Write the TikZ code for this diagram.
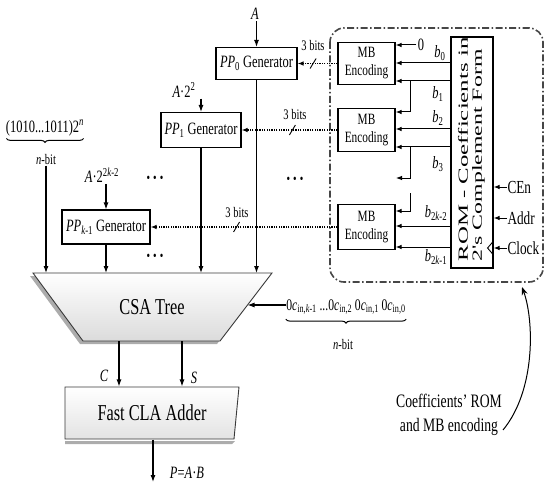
\documentclass[tikz,border=0pt]{standalone}
\usepackage{fontspec}
\setmainfont{Liberation Serif}[FakeStretch=0.72]
\newfontfamily\romfont{Liberation Serif}
\usetikzlibrary{arrows.meta,decorations.pathreplacing,calc}
\newcommand\fsz[1]{\fontsize{#1}{#1}\selectfont}
\newcommand\sbs[1]{\textsubscript{#1}}
\begin{document}
\begin{tikzpicture}[x=1pt,y=-1pt,line width=1.1pt,
  ppbox/.style={draw,line width=1.1pt,inner sep=0pt,font=\fsz{17.3}},
  mbbox/.style={draw,line width=1.1pt,inner sep=0pt,align=center,font=\fontsize{15.7}{18}\selectfont,minimum width=57pt},
  lbl/.style={inner sep=1pt,font=\fsz{17.3}},
  smalllbl/.style={inner sep=0pt,font=\fsz{14.6}},
  sig/.style={inner sep=0pt,font=\fsz{18.4}},
  arr/.style={-{Latex[length=7pt,width=5pt]},line width=1.1pt},
  sarr/.style={-{Latex[length=6pt,width=4.5pt]},line width=1pt},
  dotarr/.style={-{Latex[length=6pt,width=4.5pt]},dash pattern=on 1.2pt off 1.2pt,line width=1.2pt},
  slashmark/.style={line width=0.9pt},
  dashbox/.style={line width=1.6pt,draw=gray!55!black,dash pattern=on 7pt off 2.5pt on 1.5pt off 2.5pt,rounded corners=14pt},
  bracestyle/.style={decorate,decoration={brace,mirror,amplitude=4pt},line width=1pt},
  dotsstyle/.style={inner sep=0pt,font=\fsz{14}}
]
\useasboundingbox (0,0) rectangle (546,484);

% ---------- PP generators ----------
\node[ppbox,minimum width=81pt,minimum height=32pt] (pp0) at (256.5,63.5) {\textit{PP}\sbs{0} Generator};
\node[ppbox,minimum width=80pt,minimum height=35pt] (pp1) at (201,130) {\textit{PP}\sbs{1} Generator};
\node[ppbox,minimum width=88pt,minimum height=34pt] (ppk) at (106,227) {\textit{PP}\sbs{\textit{k}-1} Generator};

\node[lbl] (A) at (255,14) {\textit{A}};
\node[lbl] (A2) at (184,90) {\textit{A}·2\textsuperscript{2}};
\node[lbl] (A2k) at (102,175) {\textit{A}·2\textsuperscript{2\textit{k}-2}};
\draw[arr] (pp0.north |- A.south) -- (pp0.north);
\draw[arr] (pp1.north |- A2.south) -- (pp1.north);
\draw[arr] (ppk.north |- A2k.south) -- (ppk.north);

% binary constant
\node[lbl] (bin) at (45,128) {(1010...1011)2\textsuperscript{\textit{n}}};
\draw[bracestyle] ($(bin.south west)+(2,1)$) -- ($(bin.south east)+(-2,1)$);
\node[smalllbl] (nb1) at (46,160) {\textit{n}-bit};

% dots
\node[dotsstyle] (d1) at (155,179) {•\hspace{3pt}•\hspace{3pt}•};
\node[dotsstyle] (d2) at (295,180) {•\hspace{3pt}•\hspace{3pt}•};
\node[dotsstyle] (d3) at (155,257) {•\hspace{3pt}•\hspace{3pt}•};

% ---------- CSA tree ----------
\coordinate (csaT) at (152,273);
\coordinate (csaB) at (152,341);
\coordinate (csaR) at (247.5,305);
\fill[gray!65] (30,276) -- (269,276) -- (217,344) -- (80,344) -- cycle;
\shade[top color=white,bottom color=gray!28,draw=gray!45!black,line width=0.9pt] (33,273) -- (272,273) -- (220,341) -- (83,341) -- cycle;
\node[font=\fsz{22.7}] (csa) at (152,307) {CSA Tree};

\draw[arr] (nb1.south) -- (nb1.south |- csaT);
\draw[arr] (ppk.south) -- (ppk.south |- csaT);
\draw[arr] (pp1.south) -- (pp1.south |- csaT);
\draw[arr] (pp0.south) -- (pp0.south |- csaT);

\node[inner sep=0pt,font=\fsz{16.2}] (cin) at (346,307) {0\textit{c}\sbs{in,\textit{k}-1}\,...0\textit{c}\sbs{in,2}\,0\textit{c}\sbs{in,1}\,0\textit{c}\sbs{in,0}};
\draw[arr] (cin.west |- csaR) -- (csaR);
\draw[bracestyle] ($(cin.south west)+(0,4)$) -- ($(cin.south east)+(0,4)$);
\node[smalllbl] (nb2) at (343,345) {\textit{n}-bit};

% ---------- Fast CLA adder ----------
\fill[gray!65] (65,441) -- (235,441) -- (232,444) -- (65,444) -- cycle;
\shade[top color=white,bottom color=gray!22,draw=gray!45!black,line width=0.9pt] (65,387) -- (239,387) -- (234,439) -- (65,439) -- cycle;
\node[minimum width=174pt,minimum height=52pt,inner sep=0pt,font=\fsz{22.7}] (cla) at (152,413) {Fast CLA Adder};

\coordinate (cC) at (119,341);
\coordinate (cS) at (182,341);
\draw[arr] (cC) -- (cC |- cla.north);
\draw[arr] (cS) -- (cS |- cla.north);
\node[lbl] (Clbl) at (104,376) {\textit{C}};
\node[lbl] (Slbl) at (194,378) {\textit{S}};

\coordinate (pout) at (153,482);
\draw[arr] (pout |- cla.south) -- (pout);
\node[lbl] (Plbl) at (187,473) {\textit{P}=\textit{A}·\textit{B}};

% ---------- ROM and MB encoding ----------
\draw[dashbox] (330,28) rectangle (543,282);

\node[mbbox,minimum height=42pt] (mb1) at (366.5,63.5) {MB\\Encoding};
\node[mbbox,minimum height=43pt] (mb2) at (366.5,130) {MB\\Encoding};
\node[mbbox,minimum height=45pt] (mb3) at (366.5,227) {MB\\Encoding};

\node[draw,line width=1.1pt,minimum width=42pt,minimum height=231pt,inner sep=0pt] (rom) at (472,152.5) {};
\node[rotate=90,anchor=west,inner sep=0pt,font=\romfont\fsz{14}] (romt1) at (463,262) {\resizebox{224pt}{\height}{ROM - Coefficients in}};
\node[rotate=90,anchor=west,inner sep=0pt,font=\romfont\fsz{14}] (romt2) at (478.5,262) {\resizebox{212pt}{\height}{2's Complement Form}};

% control inputs
\node[sig,anchor=west] (cen) at (507,187) {CEn};
\node[sig,anchor=west] (addr) at (507,218) {Addr};
\node[sig,anchor=west] (clk) at (507,248) {Clock};
\draw[sarr] (cen.west) -- (cen.west -| rom.east);
\draw[sarr] (addr.west) -- (addr.west -| rom.east);
\draw[sarr] (clk.west) -- (clk.west -| rom.east);
\draw[line width=0.9pt] ($(clk.west -| rom.east)+(0,-7)$) -- ++(-6,7) -- ++(6,7);

% bit lines
\node[lbl] (zero) at (421,45) {0};
\draw[sarr] (zero.west) -- (mb1.east |- zero.west);
\draw[sarr] (rom.west |- 0,63) -- (mb1.east |- 0,63);
\draw[sarr] (rom.west |- 0,81) -- (mb1.east |- 0,81);
\coordinate (j1) at (410,81);
\draw[sarr] (j1) |- (mb2.east |- 0,112);
\draw[sarr] (rom.west |- 0,129) -- (mb2.east |- 0,129);
\draw[sarr] (rom.west |- 0,147) -- (mb2.east |- 0,147);
\coordinate (j3) at (410,147);
\coordinate (open3) at (396,178);
\draw[sarr] (j3) |- (open3);
\coordinate (j5) at (410,193);
\draw[sarr] (j5) |- (mb3.east |- 0,211);
\draw[sarr] (rom.west |- 0,226) -- (mb3.east |- 0,226);
\draw[sarr] (rom.west |- 0,247) -- (mb3.east |- 0,247);

\node[lbl] (b0) at (440,53) {\textit{b}\sbs{0}};
\node[lbl] (b1) at (438,94) {\textit{b}\sbs{1}};
\node[lbl] (b2) at (438,118) {\textit{b}\sbs{2}};
\node[lbl] (b3) at (438,164) {\textit{b}\sbs{3}};
\node[lbl] (b2k2) at (436,213) {\textit{b}\sbs{2\textit{k}-2}};
\node[lbl] (b2k1) at (436,257) {\textit{b}\sbs{2\textit{k}-1}};

% 3-bit buses
\draw[dotarr] (mb1.west) -- (pp0.east);
\draw[dotarr] (mb2.west) -- (pp1.east);
\draw[dotarr] (mb3.west) -- (ppk.east);
\coordinate (s1) at ($(pp0.east)!0.39!(mb1.west)$);
\coordinate (s2) at ($(pp1.east)!0.53!(mb2.west)$);
\coordinate (s3) at ($(ppk.east)!0.46!(mb3.west)$);
\draw[slashmark] ($(s1)+(-3,5)$) -- ($(s1)+(3,-5)$);
\draw[slashmark] ($(s2)+(-3,5)$) -- ($(s2)+(3,-5)$);
\draw[slashmark] ($(s3)+(-3,5)$) -- ($(s3)+(3,-5)$);
\node[smalllbl] (t1) at (313,46) {3 bits};
\node[smalllbl] (t2) at (295,115) {3 bits};
\node[smalllbl] (t3) at (237,213) {3 bits};

% note
\node[inner sep=0pt,align=center,font=\fontsize{19}{24}\selectfont] (note) at (449,415) {Coefficients’ ROM\\and MB encoding};
\coordinate (ce) at (503,430);
\coordinate (ctop) at (522,287);
\draw[-{Stealth[length=8pt,width=6pt]},line width=1pt] (ce) .. controls (536,390) and (534,320) .. (ctop);
\end{tikzpicture}
\end{document}
